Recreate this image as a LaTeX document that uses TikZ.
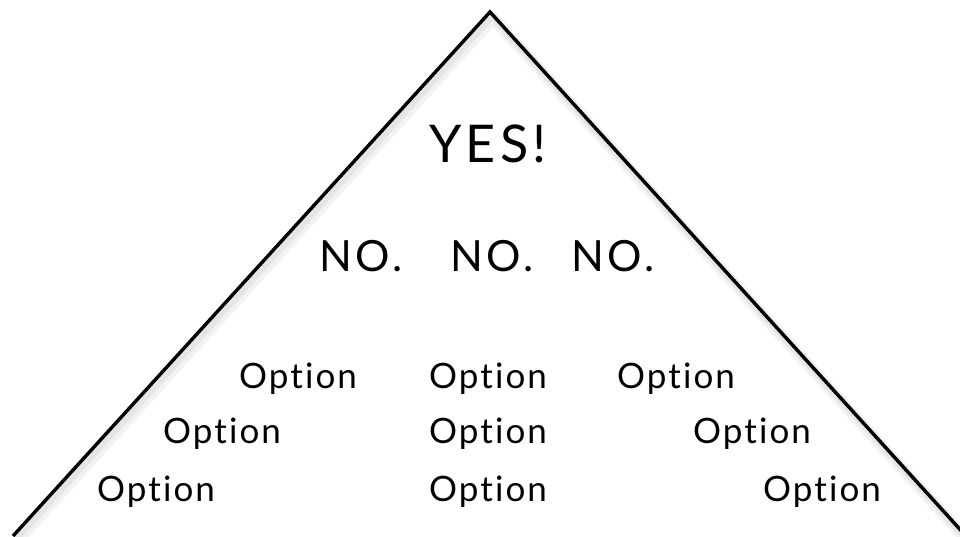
\documentclass[tikz,border=0pt]{standalone}
\usepackage{fontspec}
\setmainfont{Lato}[Ligatures={NoCommon}]
\usepackage{tikz}
\usetikzlibrary{calc,positioning}

\begin{document}
\begin{tikzpicture}[
    x=1pt, y=-1pt,
    every node/.style={inner sep=0pt, anchor=base},
    opt/.style={font=\fontsize{35}{38}\selectfont\addfontfeatures{LetterSpace=6}},
    nope/.style={font=\fontsize{43}{46}\selectfont\addfontfeatures{LetterSpace=8}},
    yes/.style={font=\fontsize{52}{56}\selectfont\addfontfeatures{LetterSpace=8}},
    edge/.style={line width=3.4pt, line join=miter},
    shade/.style={line join=round, line cap=round}
]
\useasboundingbox (0,0) rectangle (960,536);

% corners of the pyramid
\coordinate (base left)  at (13,536);
\coordinate (apex)       at (490,12);
\coordinate (base right) at (966,536);

% soft shadow under the outline
\draw[shade, black!5,  line width=12pt] ([shift={(3,6)}]base left) -- ([shift={(3,6)}]apex) -- ([shift={(3,6)}]base right);
\draw[shade, black!10, line width=7pt]  ([shift={(2,4)}]base left) -- ([shift={(2,4)}]apex) -- ([shift={(2,4)}]base right);
\draw[edge] (base left) -- (apex) -- (base right);

% top
\node[yes] (yes) at (488,162) {YES!};

% middle
\node[nope] (no2) at (492,271) {NO.};
\node[nope, left=47pt of no2.base west, anchor=base east]  (no1) {NO.};
\node[nope, right=37pt of no2.base east, anchor=base west] (no3) {NO.};

% bottom rows
\node[opt] (opt11) at (298,388) {Option};
\node[opt] (opt12) at (488,388) {Option};
\node[opt] (opt13) at (676,388) {Option};
\node[opt] (opt21) at (222,443) {Option};
\node[opt] (opt22) at (488,443) {Option};
\node[opt] (opt23) at (752,443) {Option};
\node[opt] (opt31) at (156,501) {Option};
\node[opt] (opt32) at (488,501) {Option};
\node[opt] (opt33) at (822,501) {Option};
\end{tikzpicture}
\end{document}
